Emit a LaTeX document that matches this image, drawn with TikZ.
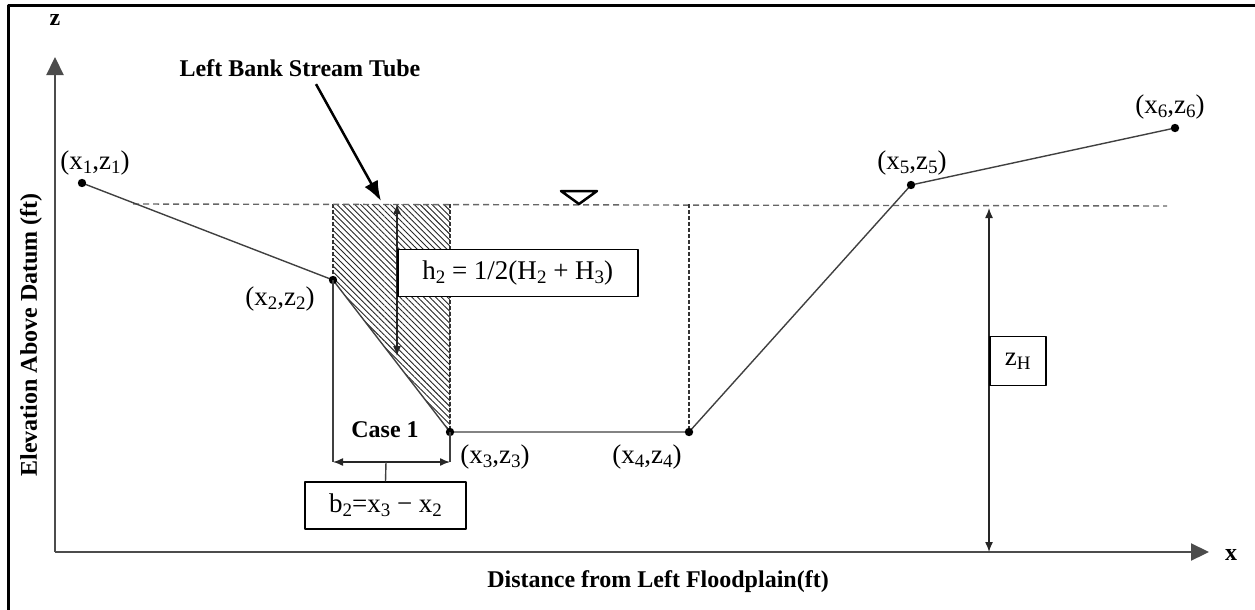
\documentclass[tikz,border=0pt]{standalone}
\usepackage{fontspec}
\setmainfont{Liberation Serif}
\usetikzlibrary{arrows.meta,positioning,patterns.meta}

\newcommand\lowsub[1]{\raisebox{-0.35ex}{\fontsize{19}{20}\selectfont #1}}

\tikzset{
  profile/.style={line width=1.4pt, black!75},
  waterline/.style={line width=1.4pt, black!60, dash pattern=on 6pt off 4pt},
  edgeline/.style={line width=1.3pt, black!80, dash pattern=on 4pt off 2pt},
  axisline/.style={line width=2.2pt, black!70, -{Triangle[length=18pt,width=17pt]}},
  dimen/.style={line width=1.4pt, black!85, {Latex[length=10pt,width=8pt]}-{Latex[length=10pt,width=8pt]}},
  labelbox/.style={draw, line width=1.5pt, fill=white, inner sep=0pt, font=\fontsize{27}{30}\selectfont},
  ptlabel/.style={font=\fontsize{27}{30}\selectfont},
  boldlabel/.style={font=\fontsize{24}{28}\selectfont\bfseries},
}

\begin{document}
\begin{tikzpicture}[x=1pt, y=-1pt, >=Latex, line cap=butt, line join=round]
  \useasboundingbox (0,0) rectangle (1255,610);
  % outer frame (cut at right and bottom)
  \draw[line width=3pt] (8,620) -- (8,6) -- (1265,6);

  % axes
  \coordinate (O) at (55,552);
  \coordinate (Ztip) at (55,57);
  \coordinate (Xtip) at (1209,552);
  \draw[axisline] (O) -- (Ztip);
  \draw[axisline] (O) -- (Xtip);
  \node[boldlabel] (zlab) at (55,20) {z};
  \node[boldlabel] (xlab) at (1231,555) {x};
  \node[boldlabel, rotate=90] (ylab) at (31,335) {Elevation Above Datum (ft)};
  \node[boldlabel] (xaxlab) at (658,582) {Distance from Left Floodplain(ft)};

  % cross-section points
  \coordinate (P1) at (82,183);
  \coordinate (P2) at (333,280);
  \coordinate (P3) at (450,432);
  \coordinate (P4) at (689,432);
  \coordinate (P5) at (911,185);
  \coordinate (P6) at (1175,128);

  % water surface
  \coordinate (W0) at (133,204);
  \coordinate (W1) at (1167,206);
  \coordinate (W2) at (333,204);
  \coordinate (W3) at (450,204);
  \coordinate (W4) at (689,204);

  % left bank stream tube
  \fill[pattern={Lines[angle=-45,distance=4.2pt,line width=0.9pt]}, pattern color=black!85]
    (W2) -- (W3) -- (P3) -- (P2) -- cycle;
  \draw[edgeline] (W2) -- (P2);
  \draw[edgeline] (W3) -- (P3);
  \draw[waterline] (W0) -- (W1);
  \draw[edgeline] (W4) -- (P4);
  \draw[line width=2.5pt] (561,191) -- (597,191) -- (579,204) -- cycle;

  \draw[profile] (P1) -- (P2) -- (P3) -- (P4) -- (P5) -- (P6);
  \foreach \p in {P1,P2,P3,P4,P5,P6}
    \fill[black] (\p) circle (4.2pt);

  \node[ptlabel] (L1) at (95,163) {(x\lowsub{1},z\lowsub{1})};
  \node[ptlabel] (L2) at (280,299) {(x\lowsub{2},z\lowsub{2})};
  \node[ptlabel] (L3) at (495,457) {(x\lowsub{3},z\lowsub{3})};
  \node[ptlabel] (L4) at (647,457) {(x\lowsub{4},z\lowsub{4})};
  \node[ptlabel] (L5) at (912,163) {(x\lowsub{5},z\lowsub{5})};
  \node[ptlabel] (L6) at (1170,107) {(x\lowsub{6},z\lowsub{6})};

  % label and pointer to the tube
  \node[boldlabel] (tube) at (300,68) {Left Bank Stream Tube};
  \coordinate (tubetip) at (381,201);
  \draw[line width=2.5pt, -{Latex[length=20pt,width=15pt]}] ([xshift=16pt,yshift=-4pt]tube.south) -- (tubetip);

  % depth h2
  \coordinate (Htop) at (397,204);
  \coordinate (Hbot) at (397,356);
  \draw[dimen] (Htop) -- (Hbot);
  \node[labelbox, anchor=west, minimum width=240pt, minimum height=47pt] (hbox) at (397,273)
    {h\lowsub{2} = 1/2(H\lowsub{2} + H\lowsub{3})};

  % width b2
  \coordinate (Bl) at (333,462);
  \coordinate (Br) at (450,462);
  \coordinate (Bm) at (386,462);
  \draw[profile] (P2) -- (Bl);
  \draw[profile] (P3) -- (Br);
  \draw[dimen] (Bl) -- (Br);
  \node[boldlabel] (case) at (385,430) {Case 1};
  \node[labelbox, minimum width=161pt, minimum height=47pt] (bbox) at (385.5,505.5)
    {b\lowsub{2}=x\lowsub{3} − x\lowsub{2}};
  \draw[profile] (Bm) -- (bbox.north);

  % water elevation zH
  \coordinate (Ztop) at (989,208);
  \coordinate (Zbot) at (989,552);
  \draw[dimen] (Ztop) -- (Zbot);
  \node[labelbox, anchor=west, minimum width=56pt, minimum height=49pt] (zbox) at (989,361)
    {z\lowsub{H}};
\end{tikzpicture}
\end{document}
